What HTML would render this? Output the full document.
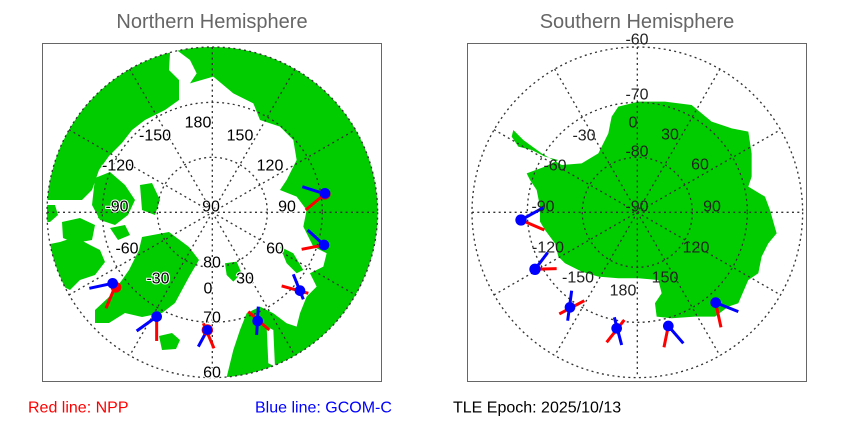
<!DOCTYPE html>
<html><head><style>
body{margin:0;background:#fff;}
svg{display:block;font-family:"Liberation Sans",sans-serif;}
.lb{font-size:16px;fill:#000;text-anchor:middle;dominant-baseline:central;paint-order:stroke;stroke:#fff;stroke-width:2px;}
.sb{font-size:16px;fill:#222;text-anchor:middle;dominant-baseline:central;}
</style></head><body>
<svg width="850" height="425" viewBox="0 0 850 425">
<defs>
<clipPath id="cn"><circle cx="517" cy="517" r="496"/></clipPath>
<clipPath id="cr"><circle cx="212.3" cy="212.3" r="165.3"/></clipPath>
</defs>
<text x="212" y="22" font-size="20" fill="#666" text-anchor="middle" dominant-baseline="central">Northern Hemisphere</text>
<text x="637" y="22" font-size="20" fill="#666" text-anchor="middle" dominant-baseline="central">Southern Hemisphere</text>
<rect x="42.5" y="43.5" width="339" height="338" fill="none" stroke="#666" stroke-width="1"/>
<rect x="467.5" y="43.5" width="339" height="338" fill="none" stroke="#666" stroke-width="1"/>

<!-- Northern -->
<g clip-path="url(#cr)" fill="#00cc00">
<polygon points="170,30 170,53 169,70 179,80 179,100 165,110 145,120 132,130 122,143 109,156 99,170 92,190 82,200 40,200 40,30"/>
<polygon points="45,245 60,242 75,237 90,245 100,250 105,262 95,275 80,280 70,290 60,285 52,270 45,262"/>
<polygon points="40,205 55,205 58,215 50,222 40,222"/>
<polygon points="62,222 80,218 95,225 92,240 75,243 63,238"/>
<polygon points="95,178 110,172 125,185 135,200 128,215 115,225 100,220 92,205"/>
<polygon points="140,185 152,183 160,200 155,215 142,210"/>
<polygon points="110,228 125,225 130,235 118,240"/>
<polygon points="100,205 112,212 108,222 98,218"/>
<polygon points="142,237 169,232 189,247 199,260 189,277 175,303 162,313 142,317 125,313 109,323 95,323 95,310 109,297 122,280 129,270 139,250"/>
<polygon points="159,336 172,333 180,340 176,349 162,350"/>
</g>
<g transform="translate(40,40) scale(0.3333)">
<g clip-path="url(#cn)" fill="#00cc00">
<polygon points="410,-50 410,30 450,60 470,100 450,130 520,110 580,160 640,190 660,240 720,260 760,300 770,360 740,420 720,450 770,470 800,510 790,560 820,620 860,640 850,680 810,700 830,740 800,770 780,820 770,860 740,850 700,820 660,800 620,820 600,870 580,930 560,1012 560,1100 1100,1100 1100,-50"/>
<polygon points="555,670 590,665 605,700 580,725 560,705"/>
<polygon points="720,620 760,640 790,690 770,700 740,670"/>
</g>
<g fill="#fff">
<polygon points="680,860 700,870 705,980 685,970"/>
</g>
<g fill="none" stroke="#333" stroke-width="4" stroke-dasharray="6,10">
<circle cx="517" cy="517" r="165"/><circle cx="517" cy="517" r="330"/><circle cx="517" cy="517" r="496"/>
<line x1="21" y1="517" x2="1013" y2="517"/><line x1="517" y1="21" x2="517" y2="1013"/>
<line x1="87" y1="269" x2="947" y2="765"/><line x1="87" y1="765" x2="947" y2="269"/>
<line x1="269" y1="87" x2="765" y2="947"/><line x1="765" y1="87" x2="269" y2="947"/>
</g>
<g stroke-width="9" stroke-linecap="butt">
<g stroke="#ff0000">
<line x1="855" y1="462" x2="797" y2="510"/><line x1="852" y1="615" x2="785" y2="628"/>
<line x1="725" y1="738" x2="805" y2="760"/><line x1="625" y1="815" x2="688" y2="870"/>
<line x1="490" y1="850" x2="522" y2="925"/><line x1="350" y1="830" x2="350" y2="903"/>
<line x1="225" y1="740" x2="198" y2="805"/>
</g>
<g stroke="#0000ff">
<line x1="855" y1="462" x2="787" y2="440"/><line x1="852" y1="615" x2="803" y2="570"/>
<line x1="760" y1="703" x2="790" y2="778"/><line x1="655" y1="800" x2="650" y2="885"/>
<line x1="502" y1="870" x2="475" y2="920"/><line x1="350" y1="830" x2="290" y2="873"/>
<line x1="218" y1="730" x2="148" y2="745"/>
</g>
</g>
<g fill="#0000ff">
<circle cx="855" cy="462" r="17" fill="#f00"/><circle cx="855" cy="460" r="16"/>
<circle cx="852" cy="615" r="16"/><circle cx="780" cy="752" r="16"/>
<circle cx="653" cy="843" r="16"/><circle cx="502" cy="870" r="17" fill="#f00"/><circle cx="502" cy="870" r="15"/>
<circle cx="350" cy="830" r="16"/><circle cx="228" cy="742" r="16" fill="#f00"/><circle cx="218" cy="730" r="16"/>
</g>
</g>
<text class="lb" x="198" y="123">180</text><text class="lb" x="240" y="136">150</text>
<text class="lb" x="155" y="136">-150</text><text class="lb" x="270" y="166">120</text>
<text class="lb" x="118" y="166">-120</text><text class="lb" x="211" y="207">90</text>
<text class="lb" x="287" y="207">90</text><text class="lb" x="117" y="207">-90</text>
<text class="lb" x="275" y="249">60</text><text class="lb" x="127" y="249">-60</text>
<text class="lb" x="212" y="263">80</text><text class="lb" x="245" y="279">30</text>
<text class="lb" x="158" y="279">-30</text><text class="lb" x="208" y="289">0</text>
<text class="lb" x="212" y="318">70</text><text class="lb" x="212" y="373">60</text>

<!-- Southern -->
<g transform="translate(465,40) scale(0.3333)">
<polygon fill="#00cc00" points="460,200 520,185 600,185 680,195 740,245 800,265 850,275 860,340 860,410 850,440 900,470 915,510 935,580 910,610 890,650 880,700 850,720 820,790 790,800 750,830 690,830 620,835 575,830 570,790 590,760 580,720 520,715 460,715 400,710 350,695 300,670 280,650 270,610 240,570 225,545 225,500 215,450 195,420 185,400 240,380 280,360 240,350 200,330 160,320 140,290 145,270 175,300 230,340 290,375 350,370 400,340 430,280 440,230"/>
<g fill="none" stroke="#333" stroke-width="4" stroke-dasharray="6,10">
<circle cx="517" cy="517" r="165"/><circle cx="517" cy="517" r="330"/><circle cx="517" cy="517" r="496"/>
<line x1="21" y1="517" x2="1013" y2="517"/><line x1="517" y1="21" x2="517" y2="1013"/>
<line x1="87" y1="269" x2="947" y2="765"/><line x1="87" y1="765" x2="947" y2="269"/>
<line x1="269" y1="87" x2="765" y2="947"/><line x1="765" y1="87" x2="269" y2="947"/>
</g>
<g stroke-width="9">
<g stroke="#ff0000">
<line x1="168" y1="540" x2="238" y2="570"/><line x1="210" y1="688" x2="275" y2="686"/>
<line x1="283" y1="822" x2="358" y2="782"/><line x1="425" y1="907" x2="478" y2="840"/>
<line x1="610" y1="858" x2="597" y2="922"/><line x1="752" y1="788" x2="768" y2="862"/>
</g>
<g stroke="#0000ff">
<line x1="168" y1="540" x2="235" y2="503"/><line x1="210" y1="688" x2="248" y2="638"/>
<line x1="320" y1="752" x2="308" y2="842"/><line x1="448" y1="832" x2="470" y2="915"/>
<line x1="610" y1="858" x2="655" y2="910"/><line x1="752" y1="788" x2="820" y2="815"/>
</g>
</g>
<g fill="#0000ff">
<circle cx="168" cy="540" r="17"/><circle cx="210" cy="688" r="17"/><circle cx="315" cy="802" r="16"/>
<circle cx="455" cy="865" r="16"/><circle cx="610" cy="858" r="16"/><circle cx="752" cy="788" r="16"/>
</g>
</g>
<text class="sb" x="637" y="40">-60</text><text class="sb" x="637" y="95">-70</text>
<text class="sb" x="633" y="123">0</text><text class="sb" x="670" y="135">30</text>
<text class="sb" x="584" y="136">-30</text><text class="sb" x="637" y="152">-80</text>
<text class="sb" x="700" y="165">60</text><text class="sb" x="555" y="166">-60</text>
<text class="sb" x="637" y="207">-90</text><text class="sb" x="543" y="207">-90</text>
<text class="sb" x="712" y="207">90</text><text class="sb" x="548" y="248">-120</text>
<text class="sb" x="696" y="248">120</text><text class="sb" x="578" y="278">-150</text>
<text class="sb" x="665" y="278">150</text><text class="sb" x="623" y="291">180</text>

<text x="28" y="408" font-size="16" fill="#ff0000" dominant-baseline="central">Red line: NPP</text>
<text x="255" y="408" font-size="16" fill="#0000ff" dominant-baseline="central">Blue line: GCOM-C</text>
<text x="453" y="408" font-size="16" fill="#000" dominant-baseline="central">TLE Epoch: 2025/10/13</text>
</svg>
</body></html>
